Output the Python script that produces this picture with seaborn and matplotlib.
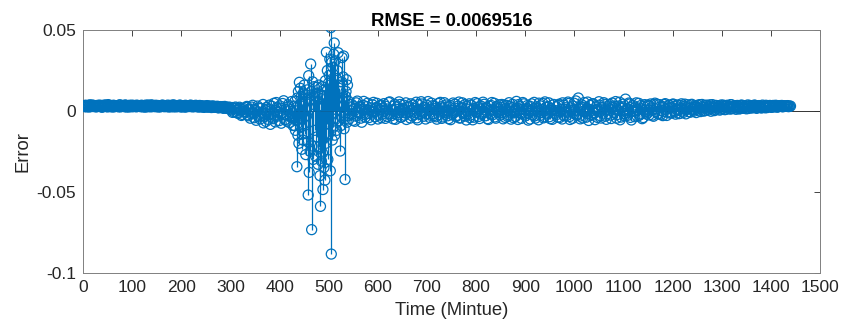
import numpy as np
import pandas as pd
import matplotlib
matplotlib.use("Agg")
import matplotlib.pyplot as plt
import seaborn as sns

# ---- data (errors in units of 1e-3) ----
# minutes 0..297, step 3
err_early = [3.1, 2.6, 3.4, 2.9, 2.4, 3.3, 3.7, 2.7, 3.0, 2.5,
             3.5, 2.8, 3.2, 2.3, 3.6, 3.0, 2.7, 3.9, 2.6, 3.1,
             2.4, 3.4, 2.9, 3.3, 2.5, 3.8, 2.8, 3.0, 2.6, 3.5,
             3.2, 2.4, 2.9, 3.6, 2.7, 3.1, 2.5, 3.3, 3.0, 2.6,
             3.4, 2.8, 2.3, 3.2, 3.7, 2.9, 2.5, 3.1, 2.7, 3.5,
             3.0, 2.4, 3.3, 2.8, 3.6, 2.6, 3.1, 2.9, 2.4, 3.4,
             2.7, 3.8, 3.0, 2.5, 3.2, 2.8, 3.5, 2.6, 3.1, 2.3,
             3.3, 2.9, 2.7, 3.6, 2.5, 3.0, 2.8, 3.2, 2.4, 3.4,
             2.6, 3.0, 2.2, 2.9, 3.3, 2.5, 2.8, 2.1, 3.1, 2.6,
             2.4, 2.9, 1.9, 2.7, 2.3, 1.6, 2.8, 2.0, 1.5, 2.4]
# minutes 1..298, step 3
err_early_b = [2.9, 3.5, 2.5, 3.2, 3.8, 2.7, 3.0, 3.4, 2.6, 3.3,
               2.8, 3.6, 2.4, 3.1, 2.9, 3.7, 2.5, 3.2, 3.4, 2.7,
               3.5, 2.6, 3.1, 2.8, 3.6, 2.5, 3.3, 2.9, 3.7, 2.4,
               3.0, 3.5, 2.7, 2.6, 3.4, 2.9, 3.6, 2.8, 3.2, 3.5,
               2.5, 3.1, 3.6, 2.7, 2.6, 3.3, 3.8, 2.8, 3.2, 2.6,
               3.4, 3.0, 2.5, 3.5, 2.9, 3.2, 2.7, 3.6, 3.1, 2.6,
               3.3, 2.5, 3.4, 3.0, 2.7, 3.6, 2.4, 3.2, 2.9, 3.5,
               2.6, 3.1, 3.4, 2.8, 3.2, 2.6, 3.5, 2.7, 3.1, 2.5,
               3.2, 2.4, 3.0, 2.7, 2.3, 3.1, 2.6, 2.9, 2.2, 2.8,
               2.5, 2.0, 2.6, 2.2, 2.7, 2.4, 1.7, 2.3, 1.9, 1.2]
# minutes 300..426, step 3
err_pre = [1.2, 2.1, -0.4, 1.8, 0.5, -1.5, 2.3, 0.0, -2.2, 1.4,
           -0.8, 2.8, -3.0, 0.6, -1.8, 3.5, -4.2, 0.2, -2.6, 1.9,
           -5.0, -0.9, 4.0, -3.4, -6.5, 1.1, -2.0, -8.3, 2.9, -4.8,
           0.4, 5.2, -3.1, -6.0, 1.7, -1.2, 6.3, -5.4, -2.5, 3.8,
           -7.2, 0.8, -4.0]
# minutes 301..427, step 3
err_pre_b = [0.6, -0.9, 1.5, 2.4, -1.1, 0.9, 1.6, -2.8, 0.7, -0.3,
             2.2, -2.4, 1.0, -4.5, 2.4, -1.2, 0.9, -5.8, 3.0, -3.7,
             1.5, -2.9, -7.4, 0.5, 2.2, -5.2, 3.6, -1.6, -3.9, 4.7,
             -6.8, 2.0, -0.8, 3.1, -7.6, 4.6, -2.2, 0.9, -6.3, 2.6,
             -3.5, 5.8, -9.0]
# minutes 428..543, step 1
err_spike = [-4, 3, -9, 6, -12, 2, -6, -34.5, 8, -15, 12, -20, 17.7, -5, 14, -10, 9,
             -23.7, 4, -18, 11, -8, 16, -14, 6, -27, 10, -3, 13, -19, -52, 21.8, -38,
             7, -25, 29, 12, -73.4, -21.7, 18, -30, 4, 15, -12, 9, -28, 6, 14.6, -16,
             11, -33, 3, 16, -22, -40, -59, 10, -31, 15, -26, -48.6, 8, -35, 13, -42.8,
             18.7, -20, 36.3, -8, 25, -30, 17, -14, 22, 32, -37, 51.5, -88.5, 30, -18,
             27, -10, 35, 42, -15, 31, -5, 20, -12, 25, 8, 36, -6, 14, 3, -24.8, 12, -9,
             18, 33, -4, 21, 34, -11, 7, -42.4, 9, 12, 19.3, -7, 16, -3, 6, -5, 4, -2]
# minutes 546..846, step 3
err_mid = [4.2, -5.8, 1.5, -3.2, 6.1, -1.0, 2.8, -7.0, 3.5, -2.4,
           0.6, 4.8, -4.1, 1.9, -0.7, 5.3, -3.6, 2.2, -5.0, 0.9,
           3.7, -2.0, 4.5, -4.6, 1.2, -1.5, 5.6, -3.0, 0.3, 3.1,
           -5.2, 2.5, -0.9, 4.0, -3.8, 1.6, -2.7, 5.0, -1.3, 2.9,
           -4.4, 0.5, 3.6, -2.2, 5.4, -5.5, 1.0, -0.4, 4.3, -3.3,
           2.0, -1.8, 5.8, -4.0, 0.8, 3.2, -2.9, 1.4, -5.1, 4.6,
           -0.6, 2.6, -3.7, 5.1, -1.1, 0.2, -4.8, 3.4, -2.1, 4.9,
           1.7, -3.5, 0.0, 5.5, -4.3, 2.3, -1.6, 3.9, -5.6, 1.1,
           4.4, -2.5, 0.7, -3.9, 5.2, -0.8, 2.4, -4.7, 3.0, -1.4,
           4.1, -3.0, 1.8, -5.3, 0.4, 3.3, -2.3, 4.7, -4.5, 1.3,
           -0.2]
# minutes 547..847, step 3
err_mid_b = [-2.1, 3.0, -6.4, 5.0, -0.3, 2.4, -4.5, 1.1, 5.9, -3.9,
             2.7, -1.5, 0.4, -5.5, 3.8, -0.6, 1.3, 4.7, -2.6, 3.3,
             -4.2, 1.8, -0.1, 2.9, -3.4, 5.2, -1.9, 0.7, -4.9, 4.1,
             1.0, -2.3, 5.6, -4.0, 0.9, 3.6, -1.2, -5.3, 2.1, -0.5,
             4.4, -3.1, 1.5, -1.0, -4.3, 3.9, -2.0, 5.7, -0.8, 2.2,
             -5.0, 3.5, 0.1, -2.6, 4.8, -1.7, 2.9, -3.6, 0.6, -2.4,
             5.3, -4.6, 1.9, -0.2, 3.7, -3.0, 2.5, -5.4, 0.3, -1.3,
             4.2, -2.8, 3.0, -4.4, 1.4, 5.0, -0.9, -3.2, 2.7, -1.5,
             -4.1, 3.6, -5.5, 1.6, -0.4, 4.5, -3.4, 1.2, -2.1, 5.4,
             -0.7, 2.0, -4.8, 3.1, -1.9, 5.2, 0.5, -3.7, 2.6, -0.9,
             3.8]
# minutes 849..1146, step 3
err_late = [-2.6, 4.0, -4.9, 1.2, 3.5, -3.4, 5.1, -0.8, 2.0, -4.2,
            0.5, 5.9, -5.3, 2.7, -1.7, 0.9, 4.4, -3.1, 1.6, -5.7,
            3.0, 0.1, -2.4, 5.3, -4.4, 1.4, -5.5, 3.2, -1.0, 4.6,
            -3.6, 2.2, -2.0, 5.0, -4.8, 0.6, 3.8, -1.5, 2.5, -3.9,
            4.2, -0.4, -5.0, 3.6, 1.0, -2.8, 5.5, -3.5, 1.9, -4.6,
            4.8, 0.3, -1.9, 8.0, -3.2, 2.4, -4.3, 5.2, -0.6, 1.5,
            -5.9, 3.4, -2.2, 4.5, -1.2, 0.8, -4.0, 5.7, -3.0, 2.1,
            -1.4, 4.1, -5.2, 1.8, 3.1, -2.6, 4.9, -0.9, 2.8, -4.5,
            0.4, 5.4, -3.8, 2.6, -1.6, 7.3, -2.9, 1.1, 4.3, -5.6,
            3.5, -0.2, 2.3, -3.3, 4.7, -1.8, 1.3, -4.1, 3.9, -0.7]
# minutes 850..1147, step 3
err_late_b = [2.2, -1.1, 3.7, -4.0, 0.6, -2.3, 2.9, -5.1, 4.1, 0.3,
              -3.5, 1.8, 3.9, -0.9, -4.6, 5.2, -2.0, 0.8, 3.3, -1.6,
              -5.0, 4.4, 1.3, -3.1, 2.5, -0.5, 4.8, -2.7, 0.9, -4.3,
              5.6, -1.3, 2.8, -3.6, 1.5, -5.2, 4.0, 0.2, -2.2, 3.4,
              -4.1, 1.1, 5.0, -3.0, 2.0, -0.7, 4.6, -5.3, 0.5, 3.1,
              -1.8, 6.2, -2.5, 1.7, -4.9, 3.8, -0.3, 2.3, -3.9, 5.5,
              0.9, -2.9, 4.3, -1.0, -5.4, 2.6, -0.4, 3.6, -4.4, 1.2,
              5.1, -3.3, 0.7, -1.5, 4.0, -4.7, 2.1, -0.8, 5.8, -2.3,
              3.0, -5.5, 1.6, 4.2, -3.0, 0.4, -1.2, 4.9, -4.0, 2.4,
              -0.1, -3.6, 5.0, 1.0, -2.7, 3.3, -4.8, 2.8, 0.6, -2.0]
# minutes 1149..1440, step 3
err_end = [3.6, -2.5, 4.3, 0.4, -3.3, 4.8, 1.2, -1.6, 3.9, -2.2,
           2.7, -0.5, 4.5, -2.8, 1.9, 3.4, -1.2, 4.0, 0.2, -2.0,
           3.7, 1.0, -1.5, 4.4, 0.6, 2.9, -1.8, 3.8, 1.5, -0.8,
           4.1, 0.9, 2.4, -1.0, 3.5, 1.7, -0.4, 4.0, 2.1, 0.3,
           3.6, 1.2, 2.8, -0.2, 3.9, 1.8, 0.7, 3.3, 2.5, 0.5,
           3.7, 1.4, 2.9, 0.9, 3.5, 2.2, 1.1, 3.8, 1.6, 3.0,
           1.0, 3.4, 2.4, 1.5, 3.6, 2.0, 3.1, 1.3, 3.7, 2.6,
           1.8, 3.2, 2.2, 3.5, 1.6, 2.9, 3.3, 2.1, 3.6, 2.4,
           1.9, 3.1, 2.7, 3.4, 2.2, 3.0, 2.5, 3.5, 2.3, 3.2,
           2.8, 3.4, 2.6, 3.1, 2.9, 3.3, 2.7, 3.0]
# minutes 1150..1438, step 3
err_end_b = [-0.9, 3.1, 1.8, -2.6, 3.9, -0.3, 4.2, -1.9, 2.5, 0.1,
             -2.9, 4.0, 1.1, -0.8, 3.6, -1.4, 2.2, 4.3, -0.6, 2.9,
             0.4, -1.7, 3.4, 1.6, -0.9, 4.2, 0.8, 2.4, -0.5, 3.7,
             1.3, -0.2, 3.1, 2.3, 0.5, 3.9, 1.0, 2.7, -0.1, 3.3,
             2.0, 0.6, 3.8, 1.5, 2.6, 0.2, 3.4, 1.9, 3.0, 1.1,
             2.4, 3.6, 0.8, 3.1, 1.7, 2.8, 3.9, 1.4, 2.5, 3.3,
             1.9, 2.9, 1.2, 3.5, 2.3, 1.6, 3.2, 2.7, 1.5, 3.4,
             2.5, 1.9, 3.6, 2.8, 2.0, 3.3, 2.6, 1.8, 3.1, 2.4,
             3.5, 2.1, 2.9, 3.2, 2.4, 3.4, 2.7, 3.0, 2.5, 3.3,
             2.9, 2.6, 3.2, 2.8, 3.1, 2.7, 3.0]

segments = [(0, 3, err_early), (1, 3, err_early_b),
            (300, 3, err_pre), (301, 3, err_pre_b),
            (428, 1, err_spike),
            (546, 3, err_mid), (547, 3, err_mid_b),
            (849, 3, err_late), (850, 3, err_late_b),
            (1149, 3, err_end), (1150, 3, err_end_b)]
rows = []
for start, step, vals in segments:
    for i, v in enumerate(vals):
        rows.append((start + step * i, v * 1e-3))
df = pd.DataFrame(rows, columns=["minute", "error"]).sort_values("minute")

title = "RMSE = 0.0069516"
xticks = list(range(0, 1501, 100))
yticks = [-0.1, -0.05, 0, 0.05]
yticklabels = ["-0.1", "-0.05", "0", "0.05"]

# ---- plot ----
sns.set_style("white")
plt.rcParams["font.family"] = ["Liberation Sans", "DejaVu Sans"]
blue = "#0072BD"

fig = plt.figure(figsize=(8.41, 3.25), dpi=100)
ax = fig.add_axes([0.099, 0.161, 0.876, 0.7465])

ax.axhline(0, color="#333333", lw=0.7, zorder=1)
ax.vlines(df["minute"], 0, df["error"], color=blue, lw=0.9, zorder=2)
sns.scatterplot(data=df, x="minute", y="error", ax=ax, marker="o", s=52,
                facecolor="none", edgecolor=blue, linewidth=0.9, zorder=3, legend=False)

ax.set_xlim(0, 1500)
ax.set_ylim(-0.1, 0.05)
ax.set_xticks(xticks)
ax.set_yticks(yticks)
ax.set_yticklabels(yticklabels)
ax.tick_params(direction="in", length=4.5, width=0.6, colors="#262626", labelsize=12.5,
               top=True, right=True, pad=5)
for sp in ax.spines.values():
    sp.set_visible(True)
    sp.set_color("#808080")
    sp.set_linewidth(0.7)
ax.set_xlabel("Time (Mintue)", fontsize=13.3, color="#262626", labelpad=5)
ax.set_ylabel("Error", fontsize=13.3, color="#262626", labelpad=4)
ax.set_title(title, fontsize=13.3, fontweight="bold", color="black", pad=3)

fig.savefig("out.png", dpi=100)
